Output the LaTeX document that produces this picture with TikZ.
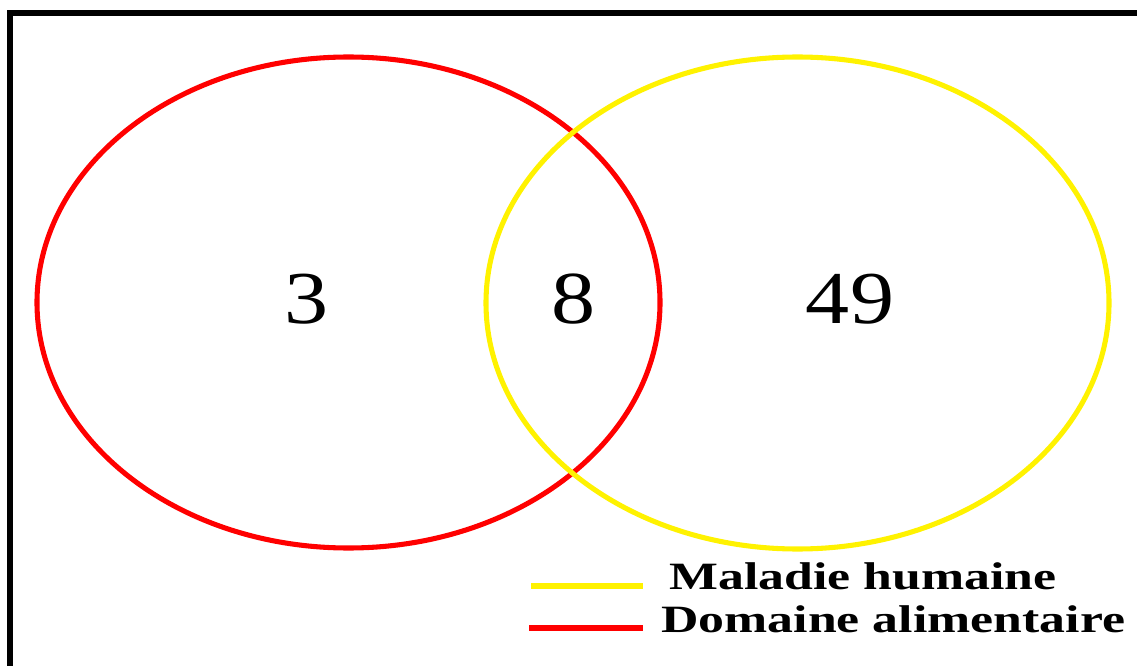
\documentclass[tikz,border=0pt]{standalone}
\usepackage{fontspec}
\setmainfont{Liberation Serif}
\begin{document}
\begin{tikzpicture}[x=0.75pt,y=-0.75pt,
  set/.style={line width=3.8pt},
  num/.style={font=\fontsize{56}{60}\selectfont, anchor=base, xscale=1.18},
  leg/.style={font=\fontsize{29}{32}\selectfont\bfseries, anchor=base west, inner sep=0pt, xscale=1.34},
  legline/.style={line width=4pt}]
\useasboundingbox (0,0) rectangle (1137,666);
\draw[line width=4.5pt] (10,666) -- (10,13) -- (1137,13);
\draw[set, red] (348.5,302.5) ellipse [x radius=311.5, y radius=245.5];
\draw[set, yellow] (797.5,303) ellipse [x radius=311.5, y radius=246];
\node[num] (a) at (307,323) {3};
\node[num] (b) at (574,323) {8};
\node[num] (c) at (850,323) {49};
\coordinate (y1) at (531,586);
\coordinate (y2) at (643,586);
\coordinate (r1) at (529,628);
\coordinate (r2) at (643,628);
\draw[legline, yellow] (y1) -- (y2);
\draw[legline, red] (r1) -- (r2);
\node[leg] (lm) at (669,589) {Maladie humaine};
\node[leg] (ld) at (661,632) {Domaine alimentaire};
\end{tikzpicture}
\end{document}
